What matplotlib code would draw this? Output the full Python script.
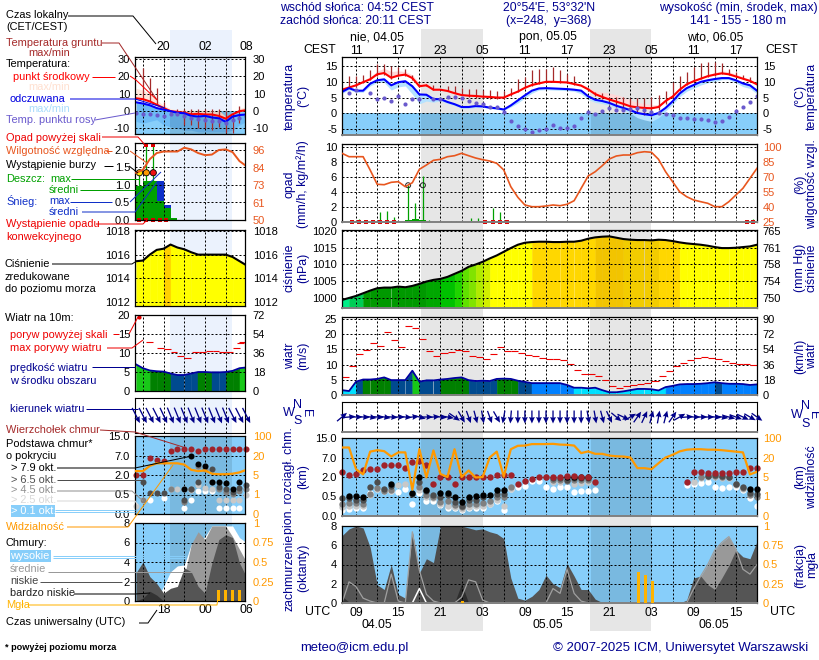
import numpy as np
import matplotlib
matplotlib.use('Agg')
import matplotlib.pyplot as plt
from matplotlib.patches import Rectangle

plt.rcParams['font.family'] = ['Liberation Sans', 'DejaVu Sans']
n = np.nan

# ---------- MAIN METEOGRAM DATA (hourly from 07 UTC 04.05) ----------
t_mean = [7.5,8.2,8.9,9.9,10.8,12.4,12.8,11.3,12,12.3, 11.2,8.6,8.9,7.5,7.5,7.1,6.4,5.8,5.6,5.5,
          5.3,5.2,5,5,6,6.9,8.1,9,9.5,10, 10,9.9,9.8,9.3,8.8,7.6,6.1,5.2,4.4,3.7,
          3,2.2,1.9,1.7,1.6,2,3.9,5.3,7.5,9.2, 10.2,11,11.8,12.3,12.7,12.4,11.7,11,10.3,9.2]
t_app = [6.8,8,7.2,7.2,9.4,10.5,10.8,8.9,9.9,10.2, 8.6,6,5.9,4.5,4.5,3.6,2.9,2,2,2.3,
         2.2,1.8,1.6,1.2,2.5,4.1,5.7,7.2,7.9,8, 7.9,7.8,7.7,7.5,7.2,5.4,4.3,3.9,3.3,2.4,
         1.7,1,.1,-.3,-.6,.1,1.7,3.8,6.3,8, 9,10,10.5,10.9,11.2,11.2,10.5,9.5,8.9,7.2]
t_up = [.3,.3,.5,.6,.8,1,1.5,2,1.5,1, 1,1,.8,.5,.5,.5,.5,.5,.5,.5, .5,.5,.5,.5,.4,.4,.4,.4,.5,.5,
        .5,.5,.5,.5,.5,.7,1,1.5,2,2.2, 2.2,2,1.5,1.5,1,.8,.5,.5,.5,.5, .5,.5,.5,.7,.8,.8,.7,.6,.5,.5]
t_down = [.5,.5,.5,.5,.7,.7,1,1.5,1.5,1.5, 2.5,3,2,1,.5,.5,.4,.4,.4,.4, .3,.3,.3,.3,.5,.8,.8,.8,.5,.5,
          .5,.5,.5,.5,1,1,.8,.8,.8,.8, .8,1,1.5,1.8,2,1.5,1,1,1,1, 1,1,.8,.8,.5,.5,.8,1,1,1]
g_max = [n,11.8,12,12.1,13.9,15.8,15.8,15,14.7,14, 12.1,9.4,9.2,8.9,n,8.6,8.6,8.2,7.8,7.6,
         7.5,7.3,7.1,7.1,8.2,11,11.5,13.7,14.2,14.2, 14.8,13.7,12.6,11.8,n,7.9,6.8,6.3,5.2,5.2,
         5.2,4.9,4.9,4.9,5.2,5.7,7,9.9,11.8,13, 14.8,15.9,16.2,16.4,15.9,14.2,13,12.1,11.4,10.6]
g_min = [7,8,8.5,9.5,10.5,12,12.3,11,11.8,12, 10.5,8.4,8.7,7.3,7.4,7,6.3,5.7,5.2,5,
         4.8,4.5,4.5,4.5,5.5,6.7,8,8.8,9.3,9.8, 9.8,9.7,9.5,9,8.5,7,5.5,4.5,3,2,
         1,.5,0,-.5,-.8,1,3,5,7.2,9, 10,10.8,11.5,12,12.5,12.2,11.5,10.8,10,9]
t_dew = [n,6.6,7.3,n,6.6,4.5,4.8,4,5.6,3.1, 4.4,4.4,n,4.7,4.7,5.2,5.2,4.9,4,3.4,
         2.9,2,2,.4,-2.4,-4,-4.9,-6,-5.4,-4.9, -3.8,-4.6,-4.8,-4,-1.4,.4,-.1,.7,1.8,1,
         1.2,1.5,1.7,1.2,.4,.1,-.1,-.5,-1.4,-1.6, -1.9,-1.9,-2.1,-2.9,-2.5,-1.3,.7,2,3.7,5.4]
humidity = [93.7,90.3,90.3,90.3,77,62.7,62.3,64.7,65.3,60.3, 64.3,77.7,82,86.7,87.7,90.3,91.3,93.7,91.3,89,
            87.3,86,83.7,77,60.3,49.7,42,40.3,40.3,41, 42,41.3,42.7,46.3,58.7,71,75.3,81.3,88,91,
            92,92,94.3,95.3,94.7,87.7,75.3,65.3,55.3,50.3, 47,45.3,43.7,40.3,40.3,45.3,52,58.7,68.7,78.7]
rain_hours = [2.4,5.4,6.4,7.4,9.4,10.4,11.5,12.4,15.5,16.2,18.4,19.4,21.4,22.4,23.4,57.6,58.5]
rain_max = [.4,1.3,1.5,.7,5,2.5,6.2,.3,.1,.15,.5,.6,1.9,1.3,.15,.3,.4]
rain_mean = [.05,.05,.05,.05,.25,.35,.25,.05,.02,.02,.05,.05,.05,.15,.05,.03,.03]
conv_hours = [1.4,2.4,3.4,4.4,5.4,6.4,7.4,20.4,21.4,22.4,23.4,57.6,58.5]
storm_hours = [9.4,11.5]
storm_vals = [4.9,4.9]
pressure = [999.4,1000,1000.6,1001.4,1002.2,1002.9,1003.1,1003.1,1003.4,1003.2, 1003.6,1004.2,1004.9,1005.4,1005.7,1006.3,1007.2,1008.1,1009.3,1010,
            1010.8,1011.8,1012.7,1013.8,1014.9,1015.9,1016.5,1016.7,1016.8,1016.8, 1016.7,1016.7,1016.8,1016.8,1017.1,1017.7,1018.1,1018.3,1018.4,1018,
            1017.6,1017.4,1017.3,1017.3,1017.2,1017.4,1017.3,1017,1016.6,1016.3, 1016.1,1015.9,1015.6,1015.2,1014.9,1014.9,1015,1015.2,1015.4,1015.9]
wind = [1.6,1.3,4.4,5.1,5.1,5.3,5.8,4.9,4.9,4.9, 8,4.4,4.8,4.8,5.1,5.3,5.6,5.8,4.9,4.6,
        4.7,4.6,5.3,5.4,5.3,4.7,4.3,3.9,3.9,3.9, 3.9,3.9,3.3,2.4,2.4,2.2,2.4,1.6,.9,.9,
        1.2,1.6,2,2,1.9,1.5,2.6,3,3.5,3.6, 3.6,3.7,3.9,4.2,3.9,3.7,3.7,3.6,3.3,3.5]
gust = [6,9.5,13.4,14.8,17,16,20.6,18,15.7,22.7, 22.2,18.4,14.4,12.7,13.7,14.1,14.8,14.4,12.7,12.4,
        11.9,13.6,15.7,14.4,14.4,13.7,13.3,12.9,12.2,11.9, 11.7,11.5,10.2,8.1,7,7,6.4,4.8,2.9,2.2,
        3,3.3,3.6,3.9,4.6,6.2,7.8,9.5,10.4,11.5, 12.1,12.5,12.2,11.7,11.1,10.4,10.1,10.1,9.9]
wind_dir = [230,265,270,275,280,275,280,275,270,275, 265,285,270,265,275,280,305,330,340,345,
            350,340,330,10,5,0,0,0,0,0, 0,0,0,0,0,350,350,345,335,310,
            295,240,215,205,195,190,195,215,240,265, 270,270,270,275,280,285,290,295,300,305]
base_top = [3.2,2.6,2.8,3.8,4.1,4.1,5,5,5,4.2, 5.9,6,5.1,1.5,2,2,1.5,2,2.1,2.1,
            2.1,2.1,2.6,2.6,2.6,1.5,1.7,1.85,2,2, 2.1,2.1,2.2,2.2,2.1,2.1,1.65,n,n,n,
            n,n,n,n,n,n,n,n,n,1.6, 3.3,3.3,3.1,3.1,3.1,3.1,3.3,3.3,4.2,4.2]
base_79 = [n,.55,.55,.5,n,n,n,1.5,n,n, .75,2,1,n,.75,.8,.5,.35,.5,.55,
           .65,.6,1,1,n,n,n,n,n,n, n,n,2,2,2,2,n,n,n,n,
           n,n,n,n,n,n,n,n,n,n, n,n,n,n,n,n,n,n,1.1,1.1]
base_65 = [.45,.45,.42,.4,1.25,1.6,1.1,1.3,n,n, .7,1.6,.9,.65,.5,.6,.35,.25,.4,.42,
           .5,n,.7,.7,n,n,n,n,n,n, 1.9,1.9,1.8,1.9,1.9,1.95,n,n,n,n,
           n,n,n,n,n,n,n,n,n,n, n,n,2.3,2.4,2.3,2.1,1.5,1.2,.8,.7]
base_45 = [.3,.33,.33,.32,.7,1.15,.95,1,n,n, n,1.2,.65,.5,.35,.38,.28,.22,.3,.32,
           .33,.38,.5,.5,1.25,n,n,n,n,2, 1.8,1.8,1.7,1.75,1.75,1.8,n,n,n,n,
           n,n,n,n,n,n,n,n,n,n, n,2,2.2,2.2,2.1,2,1.45,1.15,.6,.5]
base_25 = [.22,.25,.25,.25,.65,1.1,.9,.9,1.4,1.5, n,1,.5,.45,.3,.25,.22,.18,.22,.25,
           .25,.3,.42,.25,1.05,n,n,n,n,n, 1.6,1.65,n,1.5,1.55,1.6,n,n,n,n,
           n,n,n,n,n,n,n,n,n,n, 1.6,1.9,2.1,2,1.9,1.9,1.4,1.1,n,n]
base_01 = [.15,.19,.21,.21,.8,1.1,.9,.9,.85,1.1, .3,.75,.39,.38,.28,.2,.2,.16,.2,.2,
           .2,.3,.38,.15,1.05,1.2,1.3,1.7,1.7,1.2, 1.1,1.2,1.2,.85,.9,.9,1,n,n,n,
           n,n,n,n,n,n,n,n,n,1.4, 1.5,1.55,1.6,1.25,1.15,1.25,1.2,1,.45,.25]
visibility = [61,61,11,7,44,50,46,24,41,41, 2.4,54,4.9,49,7.3,5,54,5,10,4.9,
              5,20,44,5.3,54,68,69,75,75,75, 76,73,72,69,38,45,35,35,28,25,
              24,20,11.8,11.8,11,15.6,20,31,45,52, 54,54,52,52,50,47,44,41,7,9]
cloud_vlow = [.7,.1,0,0,0,0,0,0,0,0, 0,0,0,0,0,0,0,2,0,0, 0,0,0,0,0,0,0,0,0,0,
              0,0,0,0,0,0,0,0,0,0, 0,0,0,0,0,0,0,0,0,0, 0,0,0,0,0,0,0,0,0,0]
cloud_low = [7,7.7,8,7.8,5.8,1.9,1.4,4,.9,.5, 7.4,3.1,4.6,4.2,8,8,8,8,7.8,7.6,
             7.7,7.4,7.2,6.7,2.6,.5,.3,.7,1.4,2.9, 2,1.6,4.1,2.8,1.4,1.4,.4,.05,0,0,
             0,0,0,0,0,0,0,0,0,.3, 2.6,2.8,1.9,1.4,2.6,3.9,5.5,4.8,4.6,6.4]
cloud_mid = [0,2.2,1.7,.5,.2,0,0,3,.2,0, 7.4,3.4,.9,.2,0,0,0,.6,2.4,2.2,
             .3,0,0,0,0,0,0,0,0,0, 1.5,1,3.5,1,.2,0,0,0,0,0,
             0,0,0,0,0,0,0,0,0,0, 1.5,2.8,4,5.5,6.3,6.9,5.6,3.5,3,4]
cloud_high = [0,0,0,0,0,0,0,0,0,0, 0,1.5,0,0,0,0,0,0,0,0, 0,0,0,0,0,0,0,0,0,0,
              0,0,0,0,0,0,0,0,0,0, 0,0,0,0,0,0,0,0,0,0, 0,0,0,0,0,0,0,0,0,0]
fog_hours = [17.1,42.2,43.2,44.2]
fog_vals = [.02,.4,.36,.29]

utc_labels = ['09','','15','','21','','03','','09','','15','','21','','03','','09','','15']
cest_labels = ['11','','17','','23','','05','','11','','17','','23','','05','','11','','17']

# ---------- LEFT (CURRENT) PANEL DATA (hourly from 14 UTC) ----------
l_t_mean = [7.3,6.8,5.5,3.6,1.7,-.1,-.5,-1,-1.9,-1.6,-2,-2,-2.8,-4.4,-1.9,-.1,.5]
l_t_app = [5,4.3,3.3,1.7,.8,-.1,-1,-1.3,-2.8,-3.2,-2.8,-3.7,-4.2,-6.2,-3.2,-2.3,-2]
l_t_top = [13,12,10,6.2,3.3,1.4,.5,.5,.5,.5,.5,.5,.5,-3.2,-1.3,1.4,2.5]
l_t_low = [-6,-7,-6,-5,-8,-9,-10,-11,-11,-12,-12,-12,-12,-12,-11,-8,-6]
l_g_max = [n,24.5,18.7,13,5,.7,1.4,1.4,1.4,1.4,1.4,1.4,1.4,.1,-1.3,2.8,n]
l_g_min = [n,7,5.5,3.6,1.7,-.5,-2,-8,-8,-10,-10,-11,-9,-12.8,-12.8,-7,n]
l_t_dew = [-1,-1.5,-2,-2.5,-3,-1.5,-2,-3,-4,-4.5,-5,-6,-6,-7,-5,-4,-3]
l_humidity = [81,83,90,94,95,95,95,97.5,96.4,94,92.6,93,96,96.4,94.6,88.7,85.4]
l_rain = [.96,1.1,1.1,.53,.34,.07]
l_snow = [0,0,0,.57,.09,0]
l_rain_hours = [.5,1.5,2.5]
l_rain_max = [1.35,2.1,2.1]
l_storm_colors = ['#ffe000','#ff9900','#ee1111']
l_conv_hours = [.5,1.5,2.5,3.5,4.3]
l_pressure = [1015.44,1015.5,1016,1016.4,1016.5,1016.85,1016.6,1016.45,1016.2,1016,1016,1016,1016,1016,1015.8,1015.45,1015.1]
l_wind = [7,6,5.4,5.2,5.1,4.6,4.2,4.2,4.6,5,5,4.9,4.9,5,5.3,6,6.2]
l_gust = [12.8,11.4,11,10.2,9.2,8.6,10.2,10.2,10.5,10.6,10.2,10.2,11.4,12.7,12.9]
l_gust_hours = [2,3.5,4.5,5.5,6.5,7.5,8.6,9.6,10.6,11.6,12.6,13.6,14.6,15.1,15.4]
l_wind_dir = [333,333,333,333,335,338,338,338,338,338,338,338,338,338,333,333,333]
l_base_top = [2,2,6.3,5.8,5.6,9,9.7,9.7,9.7,9,9.7,9.7,9.7,9.7,9.7,9.7,9.7]
l_base_79 = [n,n,n,n,n,n,n,.9,7,4.8,4.2,1.5,1.5,1.35,.9,1.5,n]
l_base_65 = [n,1.5,.65,.65,.65,n,n,.37,.9,1.5,n,3.6,1.1,.9,.7,1,1.2]
l_base_45 = [n,.36,n,n,n,.9,n,.3,.9,4.2,3.6,1.5,.9,.7,.55,.8,.9]
l_base_25 = [.2,n,n,n,n,.9,.9,.9,.85,1.2,1,.9,.36,.36,.36,.36,.5]
l_base_01 = [n,.36,.36,n,.4,n,n,.15,.36,.75,.75,.75,.15,.15,.15,.15,n]
l_visibility = [8,8,12,14,14,14,14,13,9,8,8.5,6,5.6,5.6,6,7,9]
l_cloud_vlow = [0,.3,1,.6,0,0,0,0,0,0,0,0,0,0,0,0,0]
l_cloud_low = [2.9,4,2.5,1.8,.8,1.3,1.5,3.4,3,1.5,.8,3.9,6.3,6.8,6.5,3.9,2.5]
l_cloud_mid = [0,0,0,0,0,0,0,2.5,5.8,7.1,6.3,7.7,7.7,7.7,6.6,5.3,4]
l_cloud_high = [0,0,0,.2,1.5,3,3.6,3.7,5.8,5.9,6.6,7.7,7.7,7.7,7.7,6.5,6]
l_fog_hours = [12,13,14,15]
l_fog_vals = [.145,.145,.145,.145]

base_km = [0,.5,2,7,15]
vis_km = [0,1,5,20,100]
base_labels = ['0.0','0.5','2.0','7.0','15.0']
vis_labels = ['0','1','5','20','100']

# ---------- STYLE ----------
W, H = 820, 660
NAVY = '#000090'
SKY = '#87CEFA'
RHC = '#e8561e'
ORG = '#ff9900'
FOG = '#ffb300'
BRN = '#a52a2a'
GREEN = '#00a000'
FS = 7.9
TICK = 8.0
HEAD = 8.8
fig = plt.figure(figsize=(W/100, H/100), dpi=100, facecolor='white')

def px_ax(x0, y0, x1, y1, **kw):
    return fig.add_axes([x0/W, 1-y1/H, (x1-x0)/W, (y1-y0)/H], **kw)

bg = px_ax(0, 0, W, H, zorder=-5)
bg.set_xlim(0, W); bg.set_ylim(H, 0); bg.axis('off')
bg.add_patch(Rectangle((421, 29), 62, 602, fc='#e6e6e6', ec='none'))
bg.add_patch(Rectangle((590, 29), 61, 602, fc='#e6e6e6', ec='none'))
bg.add_patch(Rectangle((170, 30), 62, 568, fc='#ebf2fd', ec='none'))

def panel(rect, xlim, xgrid, ylim, yticks, ylabels, side, rticks=None, rlabels=None, rcolor='k',
          rlim=None, scale=None, rscale=None, sky=False, grey_bottom=True):
    ax = px_ax(*rect)
    ax.set_facecolor(SKY if sky else 'none')
    if scale is not None:
        ax.set_yscale('function', functions=scale)
    ax.set_xlim(*xlim); ax.set_ylim(*ylim)
    ax.set_xticks(xgrid); ax.set_yticks(yticks); ax.set_yticklabels(ylabels)
    ax.minorticks_off()
    ax.set_xticklabels([])
    ax.tick_params(length=0, labelsize=TICK, pad=3.6)
    ax.tick_params(axis='x', labelsize=HEAD)
    ax.set_axisbelow(False)
    ax.grid(True, color='k', lw=.72, ls=(0, (2, 2)))
    for s in ax.spines.values():
        s.set_linewidth(.9); s.set_zorder(6)
    if grey_bottom and side == 'main':
        ax.spines['bottom'].set_color('#808080'); ax.spines['bottom'].set_linewidth(1.4)
    tw = ax.twinx()
    tw.set_facecolor('none')
    if rscale is not None:
        tw.set_yscale('function', functions=rscale)
    tw.set_ylim(*(rlim if rlim is not None else ylim))
    tw.set_yticks(rticks if rticks is not None else yticks)
    tw.set_yticklabels(rlabels if rlabels is not None else ylabels, color=rcolor)
    tw.minorticks_off()
    tw.tick_params(length=0, labelsize=TICK, pad=4.2 if side == 'main' else 5.5)
    for s in tw.spines.values():
        s.set_visible(False)
    return ax, tw

def fscale(xs):
    pos = [0, 1, 2, 3, 4]
    return (lambda v: np.interp(v, xs, pos), lambda s: np.interp(s, pos, xs))

def wind_color(v):
    for lim, c in [(2.5, '#00e0ff'), (4, '#0080ff'), (5, '#004a8f'), (6, '#008000'), (99, '#18c818')]:
        if v < lim:
            return c
    return '#18c818'

def p_color(v):
    for lim, c in [(999.8, '#00ee88'), (1001, '#00cc55'), (1004.5, '#009900'), (1005.5, '#00b000'),
                   (1006.5, '#00cc00'), (1007.5, '#22e000'), (1008.5, '#66ee00'), (1009.5, '#88f000'),
                   (1010.5, '#bbf800'), (1011.5, '#ddfc00'), (1016.65, '#ffff00'), (1017.8, '#ffd700')]:
        if v < lim:
            return c
    return '#ffcf00'

def seg_fill(ax, x, y, bottom, colorf):
    for i in range(len(x)-1):
        c = colorf(y[i])
        ax.fill_between(x[i:i+2], y[i:i+2], bottom, color=c, lw=.3, zorder=1)

def draw_dots(ax, x, series, size):
    for vals, c in series:
        ax.scatter(x, vals, s=size, c=c, lw=0, zorder=3, clip_on=False)

def arrows(ax, x, dirs, length):
    d = np.radians(np.array(dirs, float))
    ax.quiver(x, np.zeros(len(x)), -np.sin(d), -np.cos(d), angles='uv', pivot='mid',
              scale=1/length, scale_units='inches', units='dots', width=1.3,
              headwidth=4.5, headlength=5, headaxislength=4.5, color='#000088', zorder=4, clip_on=False)

# ---------- MAIN PANELS ----------
h = np.arange(60)
XL = (0, 59)
GR = list(range(2, 59, 3))
NB = [(11.3, 20.1), (35.4, 44.1)]

def night(ax, alpha=.1):
    for a, b in NB:
        ax.axvspan(a, b, color='k', alpha=alpha, lw=0, zorder=2)

# temperature
ax, tw = panel((342, 57, 757, 135), XL, GR, (-6.9, 17.9), [-5, 0, 5, 10, 15], ['-5', '0', '5', '10', '15'], 'main')
ax.axhspan(-6.9, 0, color=SKY, lw=0, zorder=1)
for a, b in NB:
    ax.fill_between([a, b], -6.9, 0, color='k', alpha=.1, lw=0, zorder=1.5)
tm, ta = np.array(t_mean), np.array(t_app)
ax.fill_between(h, tm, tm+np.array(t_up), color='#ffd8d8', lw=0, zorder=1.8)
ax.fill_between(h, ta, ta-np.array(t_down), color='#b5e2ff', lw=0, zorder=1.8)
ax.vlines(h, g_min, g_max, color=BRN, lw=.9, zorder=3)
ax.plot(h, tm, color='#ff0000', lw=1.5, zorder=4)
ax.plot(h, ta, color='#0000ff', lw=1.5, zorder=4)
ax.scatter(h, t_dew, s=9, c='#6a5acd', lw=0, zorder=5)
ax.set_xticklabels(cest_labels)
ax.tick_params(axis='x', labeltop=True, labelbottom=False, pad=0)

# precipitation / humidity
ax, tw = panel((342, 144, 757, 222), XL, GR, (0, 10.4), [0, 2, 4, 6, 8, 10], ['0', '2', '4', '6', '8', '10'], 'main',
               [25, 40, 55, 70, 85, 100], ['25', '40', '55', '70', '85', '100'], RHC, (25, 103))
ax.vlines(rain_hours, 0, rain_max, color=GREEN, lw=.9, zorder=3)
ax.bar(rain_hours, rain_mean, width=1, color=GREEN, lw=0, zorder=3)
ax.scatter(conv_hours, np.zeros(len(conv_hours)), s=7, marker='s', c='#e00000', lw=0, zorder=5, clip_on=False)
ax.scatter(storm_hours, storm_vals, s=13, facecolors='none', edgecolors='#222222', lw=.7, zorder=5)
tw.plot(h, humidity, color=RHC, lw=1.2, zorder=4)

# pressure
ax, tw = panel((342, 230, 757, 308), XL, GR, (997, 1020.3), [1000, 1005, 1010, 1015, 1020],
               ['1000', '1005', '1010', '1015', '1020'], 'main', [1000, 1005, 1010, 1015, 1020],
               ['750', '754', '758', '761', '765'])
seg_fill(ax, h, pressure, 997, p_color)
pa = np.array(pressure)
for a, b in NB:
    ax.fill_between(h, 997, pa, where=(h >= a) & (h <= b+1), color='k', alpha=.05, lw=0, zorder=1.5)
ax.plot(h, pressure, color='k', lw=1.5, zorder=4)

# wind
ax, tw = panel((342, 317, 757, 395), XL, GR, (0, 25.7), [0, 5, 10, 15, 20, 25], ['0', '5', '10', '15', '20', '25'], 'main',
               [0, 5, 10, 15, 20, 25], ['0', '18', '36', '54', '72', '90'])
seg_fill(ax, h, wind, 0, wind_color)
ax.plot(h, wind, color='#0000a0', lw=1.3, zorder=4)
ax.hlines(gust, h[:len(gust)], h[:len(gust)]+1, color='#ee0000', lw=.8, zorder=4)

# wind direction
ax = px_ax(342, 402, 757, 432)
ax.set_facecolor('none')
ax.set_xlim(*XL); ax.set_ylim(-1, 1)
ax.set_xticks(GR); ax.set_xticklabels([]); ax.set_yticks([])
ax.tick_params(length=0)
ax.set_axisbelow(False)
ax.xaxis.grid(True, color='k', lw=.72, ls=(0, (2, 2)))
ax.spines['bottom'].set_color('#808080'); ax.spines['bottom'].set_linewidth(1.4)
arrows(ax, h, wind_dir, .13)

# cloud base / visibility
ax, tw = panel((342, 438, 757, 516), XL, GR, (0, 15), base_km, base_labels, 'main', vis_km, vis_labels, ORG,
               (0, 100), fscale(base_km), fscale(vis_km), sky=True)
night(ax)
draw_dots(ax, h, [(base_01, 'white'), (base_25, '#c8c8c8'), (base_45, '#808080'), (base_65, '#4d4d4d'),
                  (base_79, 'black'), (base_top, '#a0222a')], 21)
tw.plot(h, visibility, color=ORG, lw=1.6, zorder=4)

# clouds / fog
ax, tw = panel((342, 526, 757, 603), XL, GR, (0, 8), [0, 2, 4, 6, 8], ['0', '2', '4', '6', '8'], 'main',
               [0, .25, .5, .75, 1], ['0', '0.25', '0.5', '0.75', '1'], ORG, (0, 1), sky=True)
night(ax)
ax.fill_between(h, 0, cloud_mid, color='#999999', lw=0, zorder=1.1)
ax.fill_between(h, 0, cloud_low, color='#555555', lw=0, zorder=1.2)
ax.fill_between(h, 0, cloud_vlow, color='#333333', lw=0, zorder=1.3)
ax.plot(h, cloud_mid, color='#a0a0a0', lw=.9, zorder=3)
ax.plot(h, cloud_high, color='white', lw=1.1, zorder=3)
tw.bar(fog_hours, fog_vals, width=.42, color=FOG, lw=0, zorder=4)
ax.set_xticklabels(utc_labels)
ax.tick_params(axis='x', pad=3)

# ---------- LEFT PANELS ----------
k = np.arange(17)
LX = (-0.15, 15.8)
LG = [1, 4, 7, 10, 13]
LB = (4.93, 13.9)

ax, tw = panel((135, 57, 245, 134), LX, LG, (-13.2, 31), [-10, 0, 10, 20, 30], ['-10', '0', '10', '20', '30'], 'left')
ax.axhspan(-13.2, 0, color=SKY, lw=0, zorder=1)
ax.fill_between(k, l_t_app, l_t_low, color='#6dbbf5', lw=0, zorder=1.2)
ax.fill_between(LB, -13.2, 0, color='k', alpha=.1, lw=0, zorder=1.5)
ax.fill_between(k, l_t_mean, l_t_top, color='#ffe6da', lw=0, zorder=1.3)
ax.vlines(k, l_g_min, l_g_max, color=BRN, lw=.9, zorder=3)
ax.plot(k, l_t_mean, color='#ff0000', lw=1.5, zorder=4)
ax.plot(k, l_t_app, color='#0000ff', lw=1.5, zorder=4)
ax.scatter(k, l_t_dew, s=9, c='#6a5acd', lw=0, zorder=5)
trans = ax.get_xaxis_transform()
for xx, s in [(4, '20'), (10, '02'), (16, '08')]:
    ax.text(xx, 1.13, s, transform=trans, ha='center', va='center', fontsize=HEAD, clip_on=False)

ax, tw = panel((135, 143, 245, 220), LX, LG, (0, 2.2), [0, .5, 1, 1.5, 2], ['0.0', '0.5', '1.0', '1.5', '2.0'], 'left',
               [50, 61, 73, 84, 96], ['50', '61', '73', '84', '96'], RHC, (50, 100.6))
lk = np.arange(len(l_rain))
ax.bar(lk, l_rain, width=1, align='edge', color=GREEN, lw=0, zorder=1)
ax.bar(lk, l_snow, bottom=l_rain, width=1, align='edge', color='#1030c8', lw=0, zorder=1)
ax.vlines(l_rain_hours, 0, l_rain_max, color=GREEN, lw=.9, zorder=3)
ax.scatter(l_rain_hours, [1.35, 1.35, 1.35], s=20, c=l_storm_colors, edgecolors='k', lw=.6, zorder=5)
ax.scatter(l_rain_hours[1:], [2.13, 2.13], s=10, marker='s', c='#e00000', lw=0, zorder=5)
ax.scatter(l_conv_hours, np.zeros(len(l_conv_hours)), s=7, marker='s', c='#e00000', lw=0, zorder=5, clip_on=False)
tw.plot(k, l_humidity, color=RHC, lw=1.4, zorder=4)

ax, tw = panel((135, 230, 245, 306), LX, LG, (1011.66, 1018.08), [1012, 1014, 1016, 1018], ['1012', '1014', '1016', '1018'], 'left')
seg_fill(ax, k, l_pressure, 1011.66, lambda v: '#ffd000' if 1016.49 < v < 1016.55 else '#ffff00')
ax.plot(k, l_pressure, color='k', lw=1.5, zorder=4)

ax, tw = panel((135, 315, 245, 391), LX, LG, (0, 20), [0, 5, 10, 15, 20], ['0', '5', '10', '15', '20'], 'left',
               [0, 5, 10, 15, 20], ['0', '18', '36', '54', '72'])
seg_fill(ax, k, l_wind, 0, wind_color)
ax.plot(k, l_wind, color='#0000a0', lw=1.3, zorder=4)
ax.hlines(l_gust, np.array(l_gust_hours)-.5, np.array(l_gust_hours)+.5, color='#ee0000', lw=.8, zorder=4)
ax.scatter([.5], [19.5], s=9, c='#e00000', lw=0, zorder=5, clip_on=False)

ax = px_ax(135, 398, 245, 433)
ax.set_facecolor('none')
ax.set_xlim(*LX); ax.set_ylim(-1, 1)
ax.set_xticks(LG); ax.set_xticklabels([]); ax.set_yticks([])
ax.tick_params(length=0)
ax.set_axisbelow(False)
ax.xaxis.grid(True, color='k', lw=.72, ls=(0, (2, 2)))
arrows(ax, k, l_wind_dir, .17)

ax, tw = panel((135, 436, 245, 514), LX, LG, (0, 15), base_km, base_labels, 'left', vis_km, vis_labels, ORG,
               (0, 100), fscale(base_km), fscale(vis_km), sky=True)
ax.axvspan(*LB, color='k', alpha=.1, lw=0, zorder=2)
draw_dots(ax, k, [(l_base_01, 'white'), (l_base_25, '#c8c8c8'), (l_base_45, '#808080'), (l_base_65, '#4d4d4d'),
                  (l_base_79, 'black'), (l_base_top, '#a0222a')], 19)
tw.plot(k, l_visibility, color=ORG, lw=1.6, zorder=4)

ax, tw = panel((135, 523, 245, 601), LX, LG, (0, 8), [0, 2, 4, 6, 8], ['0', '2', '4', '6', '8'], 'left',
               [0, .25, .5, .75, 1], ['0', '0.25', '0.5', '0.75', '1'], ORG, (0, 1), sky=True)
ax.axvspan(*LB, color='k', alpha=.1, lw=0, zorder=1.05)
ax.fill_between(k, 0, l_cloud_high, color='white', lw=0, zorder=1.1)
ax.fill_between(k, 0, l_cloud_mid, color='#999999', lw=0, zorder=1.2)
ax.fill_between(k, 0, l_cloud_low, color='#555555', lw=0, zorder=1.3)
ax.fill_between(k, 0, l_cloud_vlow, color='#333333', lw=0, zorder=1.4)
tw.bar(l_fog_hours, l_fog_vals, width=.4, color=FOG, lw=0, zorder=4)
trans = ax.get_xaxis_transform()
for xx, s in [(4, '18'), (10, '00'), (16, '06')]:
    ax.text(xx, -.12, s, transform=trans, ha='center', va='center', fontsize=HEAD, clip_on=False)

# ---------- TEXT AND LEADER LINES (figure pixels) ----------
fg = px_ax(0, 0, W, H, zorder=50)
fg.set_xlim(0, W); fg.set_ylim(H, 0); fg.axis('off'); fg.patch.set_alpha(0)

def T(x, y, s, c='k', ha='left', fs=FS, **kw):
    fg.text(x, y, s, color=c, ha=ha, va='center', fontsize=fs, **kw)

def L(c, *pts, lw=.72):
    xs, ys = zip(*pts)
    fg.plot(xs, ys, color=c, lw=lw, solid_capstyle='butt')

left_texts = [
    (6, 15, 'Czas lokalny', 'k'), (6, 27, '(CET/CEST)', 'k'),
    (6, 43, 'Temperatura gruntu', BRN), (28, 53, 'max/min', BRN),
    (6, 64, 'Temperatura:', 'k'), (13, 77, 'punkt środkowy', '#ff0000'), (28, 87, 'max/min', '#ffe0d0'),
    (10, 99, 'odczuwana', '#0000e0'), (28, 109, 'max/min', '#a8dcfc'), (6, 120, 'Temp. punktu rosy', '#6a5acd'),
    (6, 138, 'Opad powyżej skali', '#ee0000'), (6, 151, 'Wilgotność względna', RHC), (6, 165, 'Wystąpienie burzy', 'k'),
    (6, 179, 'Deszcz:', GREEN), (50, 179, 'max', GREEN), (49, 190, 'średni', GREEN),
    (6, 201, 'Śnieg:', '#1030c8'), (49, 201, 'max', '#1030c8'), (49, 212, 'średni', '#1030c8'),
    (6, 224, 'Wystąpienie opadu', '#ee0000'), (6, 237, 'konwekcyjnego', '#ee0000'),
    (5, 264, 'Ciśnienie', 'k'), (5, 277, 'zredukowane', 'k'), (5, 289, 'do poziomu morza', 'k'),
    (5, 318, 'Wiatr na 10m:', 'k'), (10, 335, 'poryw powyżej skali', '#ee0000'), (10, 348, 'max porywy wiatru', '#ee0000'),
    (10, 368, 'prędkość wiatru', NAVY), (10, 381, 'w środku obszaru', NAVY), (10, 409, 'kierunek wiatru', NAVY),
    (6, 430, 'Wierzchołek chmur', BRN), (6, 444, 'Podstawa chmur*', 'k'), (6, 456, 'o pokryciu', 'k'),
    (11, 468, '> 7.9 okt.', 'k'), (11, 480, '> 6.5 okt.', '#4d4d4d'), (11, 490, '> 4.5 okt.', '#909090'),
    (11, 500, '> 2.5 okt.', '#d8d8d8'), (6, 527, 'Widzialność', ORG), (6, 543, 'Chmury:', 'k'),
    (10, 569, 'średnie', '#999999'), (10, 581, 'niskie', '#444444'), (10, 593, 'bardzo niskie', '#222222'),
    (6, 605, 'Mgła', FOG), (6, 622, 'Czas uniwersalny (UTC)', 'k'),
]
for x, y, s, c in left_texts:
    T(x, y, s, c)
fg.add_patch(Rectangle((11, 505), 44, 12, fc=SKY, ec='none'))
T(11, 511, '> 0.1 okt.', 'white')
fg.add_patch(Rectangle((10, 550), 41, 12, fc=SKY, ec='none'))
T(10, 556, 'wysokie', 'white')
T(5, 648, '* powyżej poziomu morza', 'k', fs=6.6, fontweight='bold')

leaders = [
    ('k', (68, 16), (133, 16), (156, 44)),
    (BRN, (102, 43), (119, 43), (157, 100)),
    ('#ff0000', (92, 77), (115, 77)), ('#ff0000', (130, 76), (136, 80), (157, 100)),
    ('#0000e0', (70, 99), (135, 99), (165, 108)),
    ('#6a5acd', (95, 120), (135, 113)),
    ('#ee0000', (102, 137), (138, 137), (146, 146)),
    (RHC, (106, 151), (112, 151)), (RHC, (130, 151), (147, 163)),
    ('k', (104, 166), (113, 166)), ('k', (129, 166), (138, 173)),
    (GREEN, (71, 179), (139, 179)), (GREEN, (80, 190), (143, 190)),
    ('#1030c8', (70, 202), (112, 202)), ('#1030c8', (130, 202), (161, 172)),
    ('#1030c8', (82, 212), (135, 212), (157, 182)),
    ('#ee0000', (96, 224), (143, 224), (147, 220)),
    ('k', (52, 264), (132, 264), (135, 262)),
    ('#ee0000', (113, 334), (119, 334)), ('#ee0000', (129, 334), (138, 317)),
    ('#ee0000', (107, 348), (132, 348), (143, 340)),
    (NAVY, (92, 367), (135, 367)), (NAVY, (86, 409), (138, 409)),
    (BRN, (100, 430), (135, 432), (183, 447)),
    ('k', (57, 468), (135, 468), (192, 456)),
    ('#4d4d4d', (57, 480), (143, 480)),
    ('#909090', (57, 491), (132, 491), (143, 501)),
    ('#d8d8d8', (57, 501), (135, 501), (138, 505)),
    (ORG, (67, 527), (128, 527), (173, 465)),
    ('#555555', (40, 582), (122, 582)), ('#555555', (130, 582), (135, 582)),
    ('#999999', (48, 572), (193, 572)),
    ('k', (74, 594), (135, 594), (150, 593)),
    (FOG, (28, 605), (217, 605), (219, 590)),
    ('k', (139, 623), (148, 623), (157, 610)),
]
for c, *pts in leaders:
    L(c, *pts)
for yy in (510, 512):
    L(SKY, (55, yy), (135, yy), lw=.7)
for yy, c in ((556, SKY), (558, SKY)):
    L(c, (53, yy), (186, yy), lw=.7)

# top header
for x, y, s, ha in [(280, 8, 'wschód słońca: 04:52 CEST', 'left'), (280, 21, 'zachód słońca: 20:11 CEST', 'left'),
                    (549, 8, "20°54'E, 53°32'N", 'center'), (549, 21, '(x=248,  y=368)', 'center'),
                    (738, 8, 'wysokość (min, środek, max)', 'center'), (738, 21, '141 - 155 - 180 m', 'center')]:
    T(x, y, s, NAVY, ha=ha, fs=HEAD)
for x, s in [(377, 'nie, 04.05'), (548, 'pon, 05.05'), (715, 'wto, 06.05')]:
    T(x, 37, s, 'k', ha='center', fs=HEAD)
T(336, 50, 'CEST', 'k', ha='right', fs=HEAD)
T(765, 50, 'CEST', 'k', fs=HEAD)
T(330, 612, 'UTC', 'k', ha='right', fs=HEAD)
T(770, 612, 'UTC', 'k', fs=HEAD)
for x, s in [(377, '04.05'), (548, '05.05'), (714, '06.05')]:
    T(x, 625, s, 'k', ha='center', fs=HEAD)
T(300, 648, 'meteo@icm.edu.pl', NAVY, fs=9.4)
T(553, 648, '© 2007-2025 ICM, Uniwersytet Warszawski', NAVY, fs=9.55)

# rotated axis titles
def R(x, y, s):
    fg.text(x, y, s, color=NAVY, rotation=90, ha='center', va='center', fontsize=8.9)

for x, y, s in [(290, 96, 'temperatura'), (303, 96, '(°C)'), (800, 96, '(°C)'), (812, 96, 'temperatura'),
                (290, 184, 'opad'), (303, 184, '(mm/h, kg/m²/h)'), (800, 184, '(%)'), (812, 184, 'wilgotność wzgl.'),
                (290, 268, 'ciśnienie'), (303, 268, '(hPa)'), (800, 268, '(mm Hg)'), (812, 268, 'ciśnienie'),
                (290, 356, 'wiatr'), (303, 356, '(m/s)'), (800, 356, '(km/h)'), (812, 356, 'wiatr'),
                (289, 481, 'pion. rozciągł. chm.'), (303, 477, '(km)'), (800, 477, '(km)'), (812, 477, 'widzialność'),
                (290, 572, 'zachmurzenie'), (303, 568, '(oktanty)'), (800, 565, '(frakcja)'), (812, 565, 'mgła')]:
    R(x, y, s)
for x, y, s, rot in [(289, 413, 'W', 0), (298, 405, 'N', 0), (306, 413, 'E', 270), (298, 421, 'S', 0),
                     (797, 415, 'W', 0), (806, 406, 'N', 0), (813, 415, 'E', 270), (806, 424, 'S', 0)]:
    fg.text(x, y, s, color=NAVY, rotation=rot, ha='center', va='center', fontsize=9)

fig.savefig('out.png', dpi=100, facecolor='white')
